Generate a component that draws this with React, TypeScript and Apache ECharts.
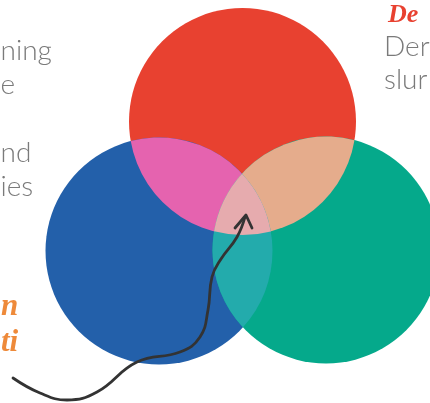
import React, { useEffect, useRef } from "react";
import * as echarts from "echarts";

// Circles (data units = pixels of the 430x403 canvas)
const circleNames = ["Red", "Blue", "Green"];
const circleX = [242.5, 159, 326];
const circleY = [121.5, 251, 250];
const circleR = 113.5;
const circleColors = ["#E84130", "#2360AA", "#05A98B"];

// Pairwise overlaps
const pairA = [0, 0, 1];
const pairB = [1, 2, 2];
const pairColors = ["#E563AF", "#E5AC8C", "#23ABAC"];
const centerColor = "#E6ABAE";

// Arrow path
const arrowX = [13, 40, 67, 97, 137, 180, 200, 208, 212, 221, 237, 245];
const arrowY = [378, 393, 400, 392, 362, 352, 337, 310, 277, 259, 237, 217];
const headX = [235, 246, 252];
const headY = [228, 215, 228];

// Text fragments
const leftLines = ["ning", "e", "nd", "ies"];
const leftBase = [59, 93, 161, 195];
const rightLines = ["Der", "slur"];
const rightBase = [55, 88];
const scriptTop = "De";
const scriptLeft = ["n", "ti"];
const scriptLeftBase = [315, 351];

function intersect(a: number[], b: number[], r: number) {
  const dx = b[0] - a[0];
  const dy = b[1] - a[1];
  const d = Math.hypot(dx, dy);
  const mx = (a[0] + b[0]) / 2;
  const my = (a[1] + b[1]) / 2;
  const h = Math.sqrt(Math.max(0, r * r - (d * d) / 4));
  const ux = -dy / d;
  const uy = dx / d;
  return [
    [mx + h * ux, my + h * uy],
    [mx - h * ux, my - h * uy],
  ];
}

export default function App() {
  const ref = useRef<HTMLDivElement>(null);
  useEffect(() => {
    document.body.style.margin = "0";
    const chart = echarts.init(ref.current!, null, { renderer: "svg" });

    const centersPx = (api: any) =>
      circleX.map((x, i) => api.coord([x, circleY[i]]));

    const gray = "#7a7a7a";
    const fsGray = 28;
    const fsScript = 31;
    const fsTop = 26;
    const graphics: any[] = [];
    leftLines.forEach((t, i) => {
      graphics.push({
        type: "text",
        style: {
          text: t,
          x: 0.5,
          y: leftBase[i] - 0.36 * fsGray,
          fill: gray,
          font: `300 ${fsGray}px Lato`,
          textAlign: "left",
          textVerticalAlign: "middle",
          verticalAlign: "middle",
        },
        z: 10,
      });
    });
    rightLines.forEach((t, i) => {
      graphics.push({
        type: "text",
        style: {
          text: t,
          x: 384,
          y: rightBase[i] - 0.36 * fsGray,
          fill: gray,
          font: `300 ${fsGray}px Lato`,
          textAlign: "left",
          textVerticalAlign: "middle",
          verticalAlign: "middle",
        },
        z: 10,
      });
    });
    graphics.push({
      type: "text",
      style: {
        text: scriptTop,
        x: 388,
        y: fsTop / 2 + 0.5,
        fill: "#E84130",
        font: `italic bold ${fsTop}px "Liberation Serif"`,
        textAlign: "left",
        textVerticalAlign: "middle",
        verticalAlign: "middle",
      },
      z: 10,
    });
    scriptLeft.forEach((t, i) => {
      graphics.push({
        type: "text",
        style: {
          text: t,
          x: 1,
          y: scriptLeftBase[i] - 0.34 * fsScript,
          fill: "#EE8A3A",
          font: `italic bold ${fsScript}px "Liberation Serif"`,
          textAlign: "left",
          textVerticalAlign: "middle",
          verticalAlign: "middle",
        },
        z: 10,
      });
    });

    chart.setOption({
      animation: false,
      grid: { left: 0, right: 0, top: 0, bottom: 0 },
      xAxis: { type: "value", min: 0, max: 430, show: false },
      yAxis: { type: "value", min: 0, max: 403, inverse: true, show: false },
      graphic: graphics,
      series: [
        {
          type: "custom",
          name: "circles",
          silent: true,
          z: 1,
          data: circleNames.map((n, i) => ({ name: n, value: [circleX[i], circleY[i], i] })),
          renderItem: (params: any, api: any) => {
            const c = api.coord([api.value(0), api.value(1)]);
            const r = api.size([circleR, 0])[0];
            return {
              type: "circle",
              shape: { cx: c[0], cy: c[1], r },
              style: { fill: circleColors[api.value(2)] },
            };
          },
        },
        {
          type: "custom",
          name: "pairs",
          silent: true,
          z: 2,
          data: pairA.map((a, i) => [a, pairB[i], i]),
          renderItem: (params: any, api: any) => {
            const cs = centersPx(api);
            const r = api.size([circleR, 0])[0];
            const a = cs[api.value(0)];
            const b = cs[api.value(1)];
            const [p1, p2] = intersect(a, b, r);
            const d = `M${p1[0]},${p1[1]} A${r},${r} 0 0 1 ${p2[0]},${p2[1]} A${r},${r} 0 0 1 ${p1[0]},${p1[1]} Z`;
            return {
              type: "path",
              shape: { pathData: d },
              style: { fill: pairColors[api.value(2)] },
            };
          },
        },
        {
          type: "custom",
          name: "center",
          silent: true,
          z: 3,
          data: [[0]],
          renderItem: (params: any, api: any) => {
            const cs = centersPx(api);
            const r = api.size([circleR, 0])[0];
            const verts: number[][] = [];
            pairA.forEach((ai, k) => {
              const bi = pairB[k];
              const ci = [0, 1, 2].find((x) => x !== ai && x !== bi)!;
              const pts = intersect(cs[ai], cs[bi], r);
              const c = cs[ci];
              const inside = pts.find((p) => Math.hypot(p[0] - c[0], p[1] - c[1]) < r) || pts[0];
              verts.push(inside);
            });
            const gx = (verts[0][0] + verts[1][0] + verts[2][0]) / 3;
            const gy = (verts[0][1] + verts[1][1] + verts[2][1]) / 3;
            verts.sort((p, q) => Math.atan2(p[1] - gy, p[0] - gx) - Math.atan2(q[1] - gy, q[0] - gx));
            let d = `M${verts[0][0]},${verts[0][1]}`;
            for (let i = 1; i <= 3; i++) {
              const v = verts[i % 3];
              d += ` A${r},${r} 0 0 1 ${v[0]},${v[1]}`;
            }
            d += " Z";
            return {
              type: "path",
              shape: { pathData: d },
              style: { fill: centerColor },
            };
          },
        },
        {
          type: "line",
          name: "arrow",
          silent: true,
          z: 4,
          smooth: 0.45,
          symbol: "none",
          lineStyle: { color: "#333333", width: 2.8, cap: "round" },
          data: arrowX.map((x, i) => [x, arrowY[i]]),
        },
        {
          type: "line",
          name: "arrowhead",
          silent: true,
          z: 4,
          symbol: "none",
          lineStyle: { color: "#333333", width: 2.8, cap: "round", join: "round" },
          data: headX.map((x, i) => [x, headY[i]]),
        },
      ],
    });
    return () => chart.dispose();
  }, []);
  return (
    <div
      ref={ref}
      style={{ width: 430, height: 403, position: "fixed", left: 0, top: 0 }}
    />
  );
}
